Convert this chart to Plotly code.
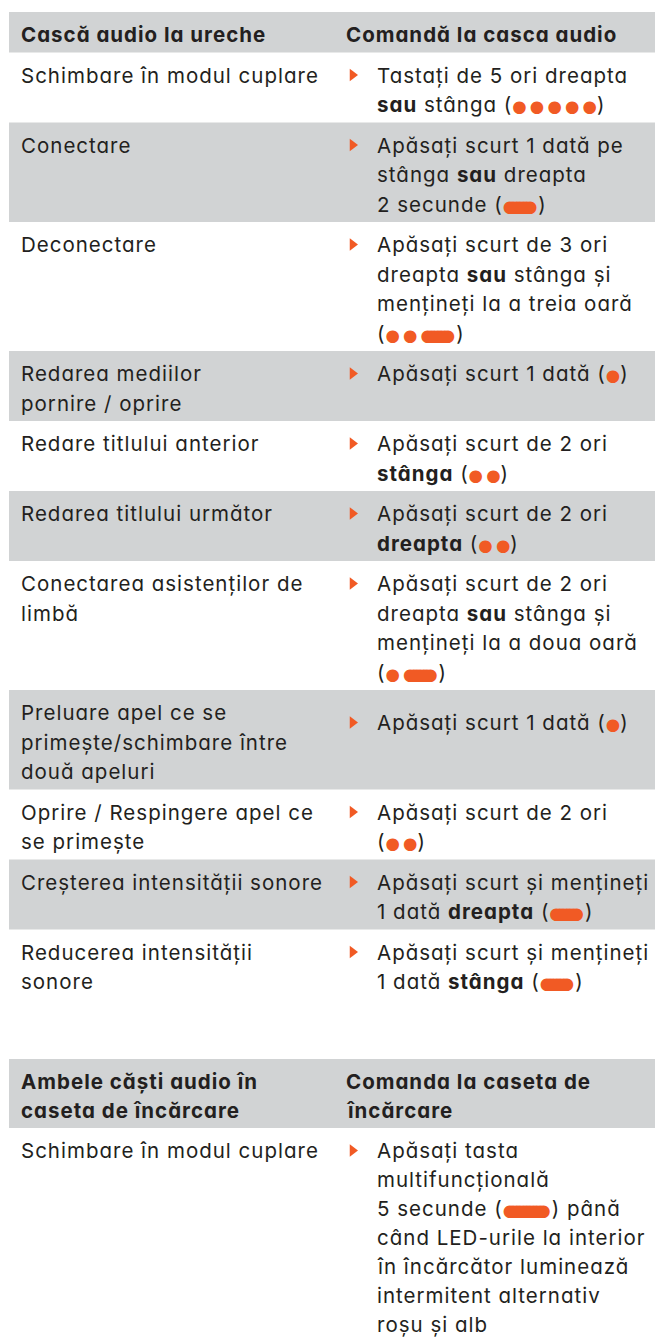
import plotly.graph_objects as go

# ---------------- data ----------------
header1 = ["Cască audio la ureche", "Comandă la casca audio"]

actions = [
    ["Schimbare în modul cuplare"],
    ["Conectare"],
    ["Deconectare"],
    ["Redarea mediilor", "pornire / oprire"],
    ["Redare titlului anterior"],
    ["Redarea titlului următor"],
    ["Conectarea asistenților de", "limbă"],
    ["Preluare apel ce se", "primește/schimbare între", "două apeluri"],
    ["Oprire / Respingere apel ce", "se primește"],
    ["Creșterea intensității sonore"],
    ["Reducerea intensității", "sonore"],
]

commands = [
    ["Tastați de 5 ori dreapta", "<b>sau</b> stânga ({s})"],
    ["Apăsați scurt 1 dată pe", "stânga <b>sau</b> dreapta", "2 secunde ({s})"],
    ["Apăsați scurt de 3 ori", "dreapta <b>sau</b> stânga și", "mențineți la a treia oară", "({s})"],
    ["Apăsați scurt 1 dată ({s})"],
    ["Apăsați scurt de 2 ori", "<b>stânga</b> ({s})"],
    ["Apăsați scurt de 2 ori", "<b>dreapta</b> ({s})"],
    ["Apăsați scurt de 2 ori", "dreapta <b>sau</b> stânga și", "mențineți la a doua oară", "({s})"],
    ["Apăsați scurt 1 dată ({s})"],
    ["Apăsați scurt de 2 ori", "({s})"],
    ["Apăsați scurt și mențineți", "1 dată <b>dreapta</b> ({s})"],
    ["Apăsați scurt și mențineți", "1 dată <b>stânga</b> ({s})"],
]

# signal patterns: "." short press, "-" hold, "=" long hold
signals = [".....", "-", "..-", ".", "..", "..", ".-", ".", "..", "-", "-"]

header2 = [["Ambele căști audio în", "caseta de încărcare"], ["Comanda la caseta de", "încărcare"]]
case_actions = [["Schimbare în modul cuplare"]]
case_commands = [["Apăsați tasta", "multifuncțională", "5 secunde ({s}) până",
                  "când LED-urile la interior", "în încărcător luminează",
                  "intermitent alternativ", "roșu și alb"]]
case_signals = ["="]

# ---------------- style ----------------
ORANGE = "#f15a24"
GRAY = "#d1d3d4"
TEXT = "#231f20"
FONT = "Inter"
FS = 20.5
LS = 1.0
PAD = 11
FIRST = 22.5
X_LEFT, X_RIGHT, X_TRI, X_BAND = 20.5, 376.5, 352.5, 9
DOT_FS = 16.5
DOT_ADV = DOT_FS * 0.875
DOT_STEP = 17.6
PILL_STEP = 3.4
PILL_N = {"-": 7, "=": 11}


def sig_html(pattern):
    parts = []
    for i, ch in enumerate(pattern):
        gap = 0 if i == len(pattern) - 1 else DOT_STEP - DOT_ADV
        if ch == ".":
            parts.append(f"<span style='letter-spacing:{gap:.2f}px'>●</span>")
        else:
            n = PILL_N[ch]
            parts.append(f"<span style='letter-spacing:{PILL_STEP - DOT_ADV:.2f}px'>{'●' * (n - 1)}</span>"
                         f"<span style='letter-spacing:{gap + 1.0:.2f}px'>●</span>")
    return (f"<span style='font-family:DejaVu Sans;font-weight:400;font-size:{DOT_FS}px;fill:{ORANGE}'>"
            + "".join(parts) + "</span>")


def wrap(t):
    return f"<span style='font-feature-settings:\"cv11\";letter-spacing:{LS}px'>" + t + "</span>"


shapes, annotations = [], []
tri_y = []


def add_text(x, y, t, bold=False):
    txt = wrap("<b>" + t + "</b>") if bold else wrap(t)
    annotations.append(dict(x=x, y=y, xref="x", yref="y", text=txt, showarrow=False,
                            xanchor="left", yanchor="middle", align="left",
                            borderpad=0, borderwidth=0,
                            font=dict(family=FONT, size=FS, color=TEXT)))


def add_table(top, header, rows_l, rows_r, sigs, line, r_offsets=None):
    hl = max(len(header[0]), len(header[1]))
    h = hl * line + PAD
    shapes.append(dict(type="rect", xref="x", yref="y", x0=X_BAND, x1=655, y0=top, y1=top + h,
                       fillcolor=GRAY, line=dict(width=0), layer="below"))
    for i, ln in enumerate(header[0]):
        add_text(X_LEFT, top + FIRST + i * line, ln, bold=True)
    for i, ln in enumerate(header[1]):
        add_text(X_RIGHT - 30.5, top + FIRST + i * line, ln, bold=True)
    y = top + h
    for r, (lt, rt) in enumerate(zip(rows_l, rows_r)):
        n = max(len(lt), len(rt))
        rh = n * line + PAD
        if r % 2 == 1:
            shapes.append(dict(type="rect", xref="x", yref="y", x0=X_BAND, x1=655, y0=y, y1=y + rh,
                               fillcolor=GRAY, line=dict(width=0), layer="below"))
        for i, ln in enumerate(lt):
            add_text(X_LEFT, y + FIRST + i * line, ln)
        off = r_offsets[r] if r_offsets else 0
        for i, ln in enumerate(rt):
            add_text(X_RIGHT, y + FIRST + off + i * line, ln.replace("{s}", sig_html(sigs[r])))
        tri_y.append(y + FIRST + off)
        y += rh
    return y


offsets1 = [0, 0, 0, 0, 0, 0, 0, 10, 0, 0, 0]
add_table(12, [[header1[0]], [header1[1]]], actions, commands, signals, 29.5, offsets1)
add_table(1059, header2, case_actions, case_commands, case_signals, 29.0)

fig = go.Figure()
fig.add_trace(go.Scatter(x=[X_TRI] * len(tri_y), y=tri_y, mode="markers",
                         marker=dict(symbol="triangle-right", size=11, color=ORANGE),
                         hoverinfo="skip", showlegend=False))
fig.update_layout(
    width=655, height=1338, autosize=False,
    margin=dict(l=0, r=0, t=0, b=0, pad=0),
    paper_bgcolor="white", plot_bgcolor="white",
    xaxis=dict(range=[0, 655], visible=False, fixedrange=True),
    yaxis=dict(range=[1338, 0], visible=False, fixedrange=True),
    shapes=shapes, annotations=annotations, showlegend=False,
)
fig.write_html("out.html", config={"displayModeBar": False, "staticPlot": True},
               post_script="document.body.style.margin='0';document.body.style.overflow='hidden';")
